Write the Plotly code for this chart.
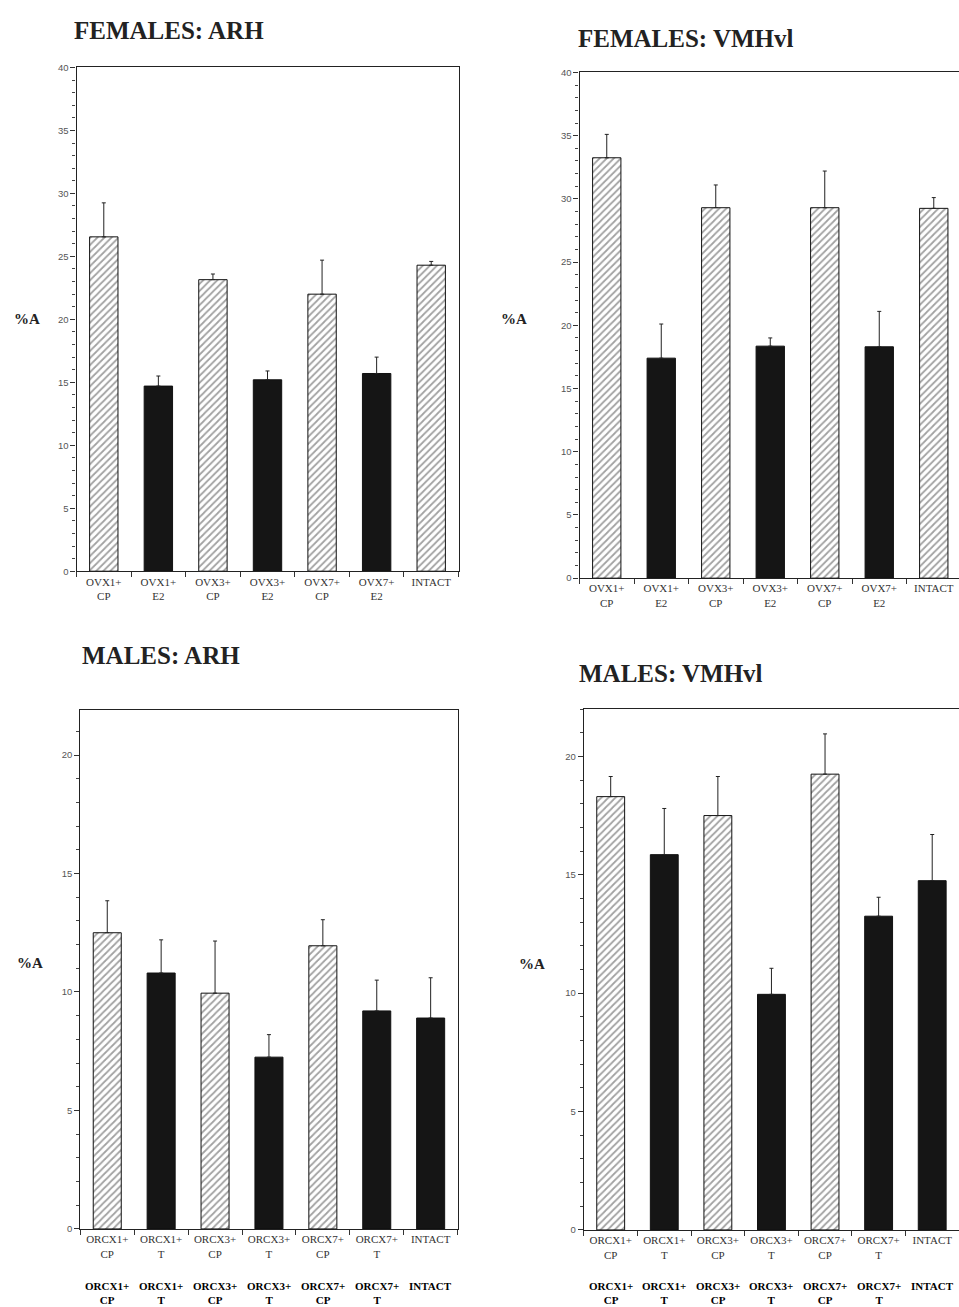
import plotly.graph_objects as go

W, H = 959, 1307

# ---------------- data ----------------
fem_cats = ["OVX1+<br>CP", "OVX1+<br>E2", "OVX3+<br>CP", "OVX3+<br>E2",
            "OVX7+<br>CP", "OVX7+<br>E2", "INTACT"]
male_cats = ["ORCX1+<br>CP", "ORCX1+<br>T", "ORCX3+<br>CP", "ORCX3+<br>T",
             "ORCX7+<br>CP", "ORCX7+<br>T", "INTACT"]

fem_arh_mean = [26.55, 14.7, 23.15, 15.2, 22.0, 15.7, 24.3]
fem_arh_sem = [2.7, 0.8, 0.45, 0.7, 2.7, 1.3, 0.3]

fem_vmh_mean = [33.25, 17.4, 29.3, 18.35, 29.3, 18.3, 29.25]
fem_vmh_sem = [1.85, 2.7, 1.8, 0.65, 2.9, 2.8, 0.85]

male_arh_mean = [12.5, 10.8, 9.95, 7.25, 11.95, 9.2, 8.9]
male_arh_sem = [1.35, 1.4, 2.2, 0.95, 1.1, 1.3, 1.7]

male_vmh_mean = [18.3, 15.85, 17.5, 9.95, 19.25, 13.25, 14.75]
male_vmh_sem = [0.85, 1.95, 1.65, 1.1, 1.7, 0.8, 1.95]

fem_hatched = [True, False, True, False, True, False, True]
male_hatched = [True, False, True, False, True, False, False]

titles = ["FEMALES: ARH", "FEMALES: VMHvl", "MALES: ARH", "MALES: VMHvl"]
ylabel = "%A"

# ---------------- figure ----------------
fig = go.Figure()

BLACK = "#151515"


def add_panel(idx, cats, mean, sem, hatched):
    xa = "x" if idx == 1 else f"x{idx}"
    ya = "y" if idx == 1 else f"y{idx}"
    colors = ["white" if h else BLACK for h in hatched]
    shapes = ["/" if h else "" for h in hatched]
    fig.add_trace(go.Bar(
        x=cats, y=mean, xaxis=xa, yaxis=ya, width=0.52,
        marker=dict(color=colors, line=dict(color="#111", width=1),
                    pattern=dict(shape=shapes, fgcolor="#2a2a2a", bgcolor="white",
                                 size=5, solidity=0.35)),
        error_y=dict(type="data", symmetric=False, array=sem,
                     arrayminus=[0] * len(sem), thickness=1, width=2,
                     color="#222"),
        showlegend=False,
    ))


add_panel(1, fem_cats, fem_arh_mean, fem_arh_sem, fem_hatched)
add_panel(2, fem_cats, fem_vmh_mean, fem_vmh_sem, fem_hatched)
add_panel(3, male_cats, male_arh_mean, male_arh_sem, male_hatched)
add_panel(4, male_cats, male_vmh_mean, male_vmh_sem, male_hatched)

xfont = dict(family="Liberation Serif, Times New Roman, serif", size=11, color="#333")
yfont = dict(family="Liberation Sans, Arial, sans-serif", size=9.5, color="#555")


def xax(x0, x1, anchor, rng):
    return dict(domain=[x0 / W, x1 / W], anchor=anchor, type="category",
                range=rng, showline=True, linecolor="#222", linewidth=1.2,
                mirror=True, ticks="outside", tickson="boundaries", ticklen=5,
                tickcolor="#333", tickfont=xfont, showgrid=False, zeroline=False,
                tickangle=0, fixedrange=True)


def yax(ytop, ybot, anchor, rng, dtick, mirror=True):
    return dict(domain=[1 - ybot / H, 1 - ytop / H], anchor=anchor,
                range=rng, dtick=dtick, showline=True, linecolor="#222",
                linewidth=1.2, mirror=mirror, ticks="outside", ticklen=5,
                tickcolor="#333", tickfont=yfont, showgrid=False,
                zeroline=False,
                minor=dict(dtick=1, ticks="outside", ticklen=3,
                           tickcolor="#444"))


fig.update_layout(
    width=W, height=H, margin=dict(l=0, r=0, t=0, b=0),
    paper_bgcolor="white", plot_bgcolor="white", bargap=0.48,
    xaxis=xax(76.5, 458.5, "y", [-0.5, 6.5]),
    yaxis=yax(62, 570, "x", [0, 40], 5),
    xaxis2=xax(579.5, 959, "y2", [-0.5, 6.463]),
    yaxis2=yax(67, 577, "x2", [0, 40], 5, mirror=False),
    xaxis3=xax(80.3, 457.6, "y3", [-0.5, 6.5]),
    yaxis3=yax(710, 1233.3, "x3", [0, 21.9], 5),
    xaxis4=xax(583.9, 959, "y4", [-0.5, 6.5]),
    yaxis4=yax(709, 1234.3, "x4", [0, 22], 5, mirror=False),
)

tfont = dict(family="Liberation Serif, Times New Roman, serif", size=25, color="#222")
title_pos = [(72, 25), (576, 33), (80, 655), (577, 673)]
for t, (px, py) in zip(titles, title_pos):
    fig.add_annotation(text="<b>" + t + "</b>", xref="paper", yref="paper",
                       x=px / W, y=1 - py / H, xanchor="left", yanchor="middle",
                       showarrow=False, font=tfont)

lfont = dict(family="Liberation Serif, Times New Roman, serif", size=15, color="#222")
ylab_pos = [(27, 316), (514, 316), (30, 965), (532, 966)]
for px, py in ylab_pos:
    fig.add_annotation(text="<b>" + ylabel + "</b>", xref="paper", yref="paper",
                       x=px / W, y=1 - py / H, xanchor="center", yanchor="middle",
                       showarrow=False, font=lfont)

# duplicated category label row under the male panels
bfont = dict(family="Liberation Serif, Times New Roman, serif", size=11, color="#000")
for xa in ["x3", "x4"]:
    for c in male_cats:
        fig.add_annotation(text="<b>" + c + "</b>", xref=xa, yref="paper",
                           x=c, y=1 - 1283 / H, xanchor="center", yanchor="top",
                           showarrow=False, font=bfont)

fig.write_html(
    "out.html",
    config={"displayModeBar": False},
    post_script="document.body.style.margin='0';document.body.style.overflow='hidden';",
)
